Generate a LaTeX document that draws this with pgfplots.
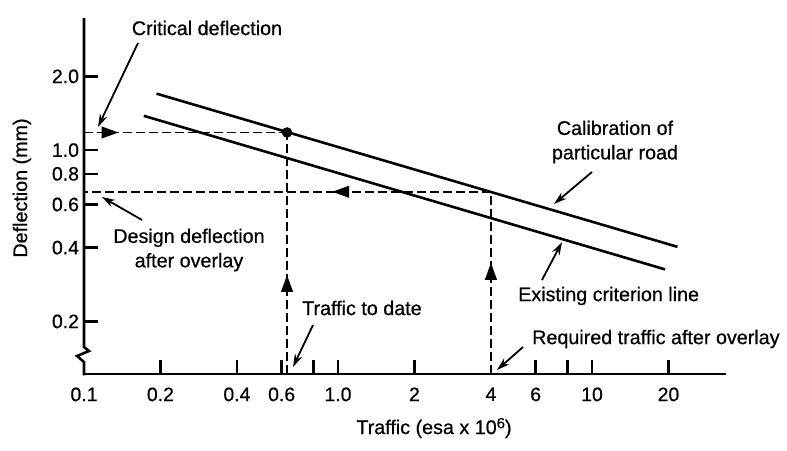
\documentclass[border=0pt]{standalone}
\usepackage{pgfplots}
\pgfplotsset{compat=1.18}
\usepackage{fontspec}
\setmainfont[FakeBold=0.6,AutoFakeBold=0.6]{Liberation Sans}
\usetikzlibrary{arrows.meta,decorations.markings}

\tikzset{
  dashln/.style={line width=1.7bp, dash pattern=on 9bp off 4bp},
  midarrow/.style={postaction={decorate}, decoration={markings, mark=at position #1 with {\arrow[solid]{Triangle[length=13bp,width=9bp,scale=1.3]}}}},
  annarrow/.style={line width=1.8bp, -{Stealth[length=13bp,width=8bp]}},
  ann/.style={inner sep=0pt, font=\fontsize{19.8}{24.5}\selectfont\bfseries}
}

\begin{document}
\begin{tikzpicture}
\useasboundingbox (0,0) rectangle (787bp,-451bp);
\begin{axis}[
  at={(84bp,-374bp)}, anchor=south west,
  scale only axis, width=641.7bp, height=356bp,
  xmode=log, ymode=log,
  xmin=0.1, xmax=33.6, ymin=0.122, ymax=3.46,
  axis x line=bottom, axis y line=left,
  axis line style={line width=2.6bp, -},
  y axis line style={draw=none},
  tick align=inside,
  major tick length=14bp,
  minor tick length=0pt,
  every tick/.style={line width=2.6bp, black},
  xtick={0.2,0.4,0.6,0.8,1,2,6,8,10,20},
  xticklabels={0.2,0.4,0.6,,1.0,2,6,,10,20},
  extra x ticks={0.1,4},
  extra x tick labels={0.1,4},
  extra x tick style={major tick length=0pt},
  ytick={0.2,0.4,0.6,0.8,1,2},
  yticklabels={0.2,0.4,0.6,0.8,1.0,2.0},
  ticklabel style={font=\fontsize{19.5}{22}\selectfont\bfseries},
  xticklabel style={yshift=-10bp},
  yticklabel style={xshift=-1.5bp},
]
% calibration of particular road
\addplot[black, line width=2.6bp] coordinates {(0.193,1.70) (21.7,0.403)};
% existing criterion line
\addplot[black, line width=2.6bp] coordinates {(0.172,1.38) (19.4,0.326)};
% critical deflection horizontal
\addplot[black, dashln, midarrow=0.17] coordinates {(0.1,1.18) (0.63,1.18)};
% traffic to date vertical
\addplot[black, dashln, midarrow=0.41] coordinates {(0.63,0.122) (0.63,1.18)};
% required traffic vertical
\addplot[black, dashln, midarrow=0.61] coordinates {(4,0.122) (4,0.676)};
% design deflection horizontal
\addplot[black, dashln, midarrow=0.39] coordinates {(4,0.676) (0.1,0.676)};
% point
\addplot[only marks, mark=*, mark size=5bp, black] coordinates {(0.63,1.18)};
\end{axis}
\begin{scope}[x=1bp,y=-1bp]
% y axis with break
\draw[line width=2.6bp, line join=miter] (84,18) -- (84,347) -- (89,351) -- (77,356) -- (84,362) -- (84,375.3);
% axis labels
\node[ann, rotate=90] at (22,188) {Deflection (mm)};
\node[ann] at (434,428) {Traffic (esa x 10\raisebox{0.55ex}{\fontsize{15}{15}\selectfont 6})};
% annotations
\node[ann] at (207,28) {Critical deflection};
\draw[annarrow] (138,43) -- (98,127);
\node[ann, align=center] at (189,250) {Design deflection\\after overlay};
\draw[annarrow] (142,220) -- (102,197);
\node[ann, anchor=west] at (302,308) {Traffic to date};
\draw[annarrow] (313,325) -- (293,367);
\node[ann, anchor=west] at (532,339) {Required traffic after overlay};
\draw[annarrow] (523,347) -- (497,370);
\node[ann, align=center] at (615,142) {Calibration of\\particular road};
\draw[annarrow] (592,172) -- (554,204);
\node[ann, anchor=west] at (518,296) {Existing criterion line};
\draw[annarrow] (542,280) -- (562,242);
\end{scope}
\end{tikzpicture}
\end{document}
